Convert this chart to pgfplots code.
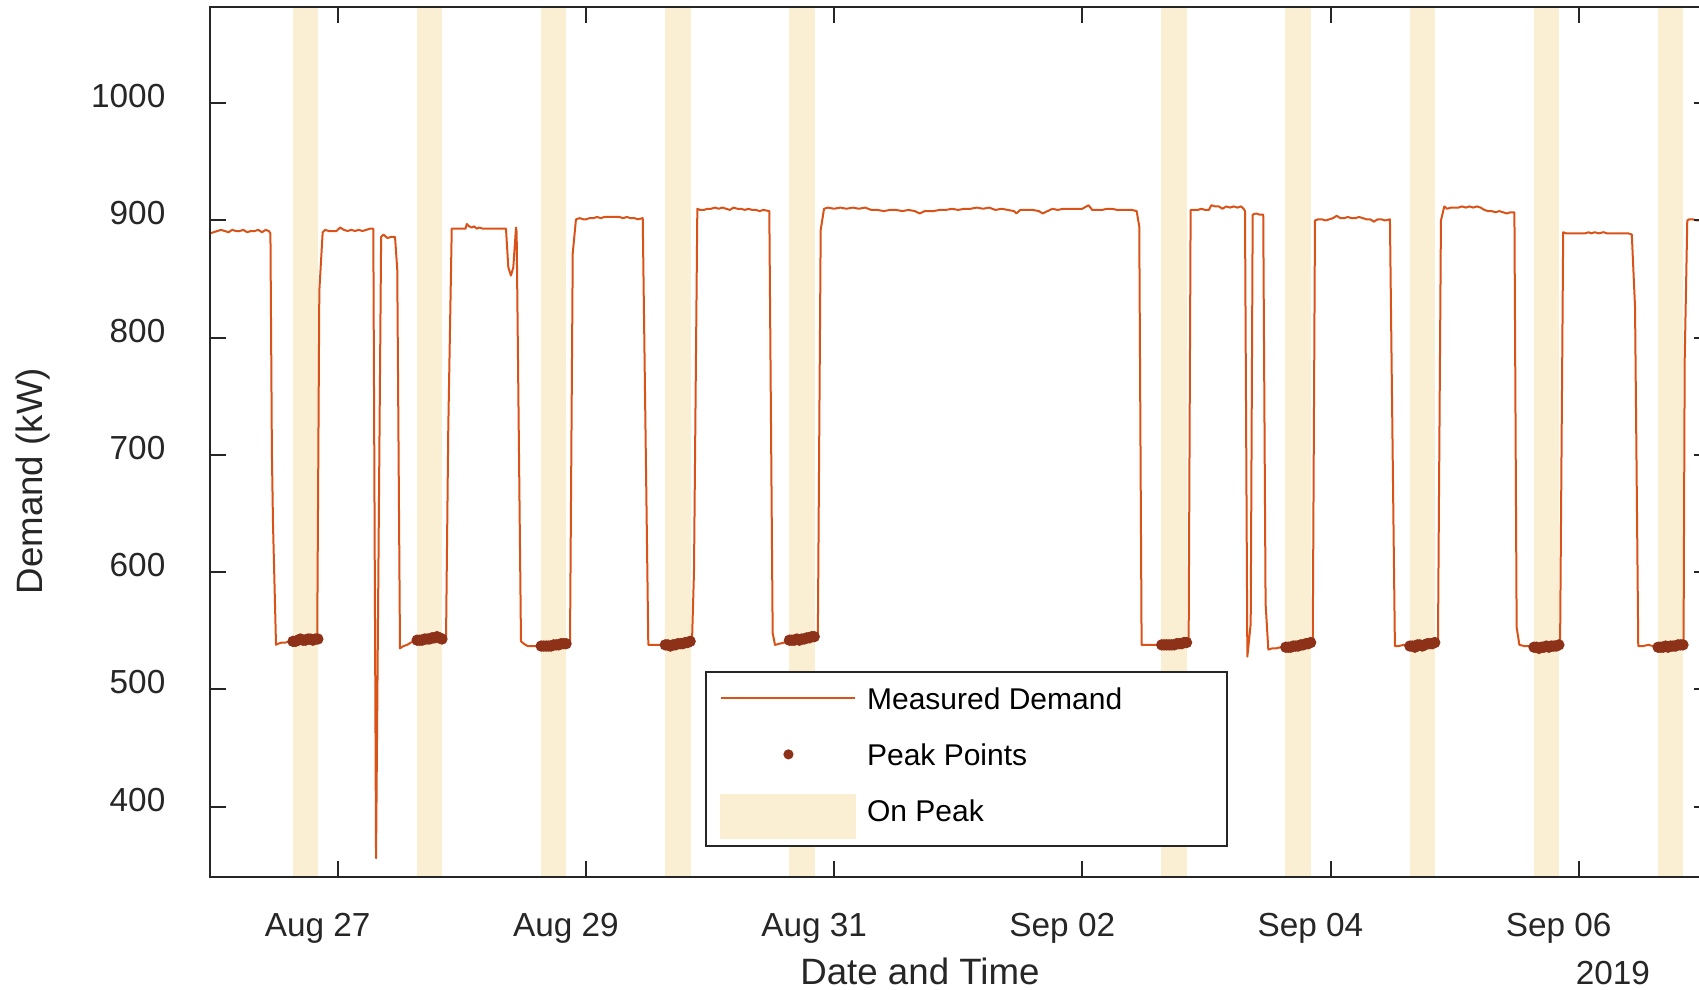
\documentclass[border=0pt]{standalone}
\usepackage{fontspec}
\setmainfont{Liberation Sans}
\usepackage{pgfplots}
\pgfplotsset{compat=1.18}
\definecolor{demandcol}{HTML}{D95319}
\definecolor{peakcol}{HTML}{8E3119}
\definecolor{bandcol}{RGB}{250,238,211}
\definecolor{axiscol}{HTML}{262626}
\pgfplotsset{
  lineleg/.style={legend image code/.code={\draw[##1] (0pt,0pt) -- (40.2pt,0pt);}},
  markleg/.style={legend image code/.code={\draw[##1, mark size=1.2pt] plot coordinates {(20.1pt,0pt)};}},
  bandleg/.style={legend image code/.code={\fill[bandcol] (0pt,-8.4pt) rectangle (40.2pt,4.6pt);}},
}
\begin{document}
\begin{tikzpicture}
\begin{axis}[
  scale only axis, width=450pt, height=261pt,
  xmin=-0.029, xmax=12.058, ymin=340, ymax=1082.1,
  axis on top,
  axis line style={draw=axiscol, line width=0.6pt},
  tick style={draw=axiscol, line width=0.6pt},
  major tick length=4.8pt,
  tick align=inside,
  xtick pos=both, ytick pos=both,
  xtick={1,3,5,7,9,11},
  xticklabels={Aug 27,Aug 29,Aug 31,Sep 02,Sep 04,Sep 06},
  ytick={400,500,...,1000},
  /pgf/number format/1000 sep={},
  /pgf/number format/assume math mode=true,
  ticklabel style={font=\fontsize{10}{12}\selectfont, text=axiscol},
  xticklabel style={anchor=base, yshift=-17.8pt, xshift=-6pt},
  yticklabel style={anchor=east, inner sep=0pt, xshift=-13.2pt, yshift=2.1pt},
  xlabel={Date and Time},
  ylabel={Demand (kW)},
  label style={font=\fontsize{11}{13}\selectfont, text=axiscol},
  xlabel style={at={(axis description cs:0.4733,-0.1236)}, anchor=base},
  ylabel style={at={(axis description cs:-0.1183,0.455)}, anchor=center},
  extra description/.code={
    \node[anchor=base, font=\fontsize{10}{12}\selectfont, text=axiscol] at (0.9353,-0.1236) {2019};
  },
  legend cell align=left,
  legend style={at={(axis description cs:0.3303,0.2371)}, anchor=north west,
    draw=axiscol, line width=0.6pt, fill=white,
    font=\fontsize{9}{11}\selectfont, text=black,
    inner xsep=4.2pt, inner ysep=2pt, row sep=4.8pt,
    nodes={inner sep=0pt, text height=9.2pt, text depth=2.8pt}},
]
% On-peak bands
\addplot[fill=bandcol, draw=none, forget plot] coordinates {(0.637,330) (0.843,330) (0.843,1090) (0.637,1090)};
\addplot[fill=bandcol, draw=none, forget plot] coordinates {(1.637,330) (1.843,330) (1.843,1090) (1.637,1090)};
\addplot[fill=bandcol, draw=none, forget plot] coordinates {(2.637,330) (2.843,330) (2.843,1090) (2.637,1090)};
\addplot[fill=bandcol, draw=none, forget plot] coordinates {(3.637,330) (3.843,330) (3.843,1090) (3.637,1090)};
\addplot[fill=bandcol, draw=none, forget plot] coordinates {(4.637,330) (4.843,330) (4.843,1090) (4.637,1090)};
\addplot[fill=bandcol, draw=none, forget plot] coordinates {(7.637,330) (7.843,330) (7.843,1090) (7.637,1090)};
\addplot[fill=bandcol, draw=none, forget plot] coordinates {(8.637,330) (8.843,330) (8.843,1090) (8.637,1090)};
\addplot[fill=bandcol, draw=none, forget plot] coordinates {(9.637,330) (9.843,330) (9.843,1090) (9.637,1090)};
\addplot[fill=bandcol, draw=none, forget plot] coordinates {(10.637,330) (10.843,330) (10.843,1090) (10.637,1090)};
\addplot[fill=bandcol, draw=none, forget plot] coordinates {(11.637,330) (11.843,330) (11.843,1090) (11.637,1090)};
% Measured demand
\addplot[demandcol, line width=0.6pt, line join=round, lineleg] coordinates {
(-0.029,889) (0.0,890) (0.03,891) (0.06,892) (0.09,891) (0.12,890) (0.15,892) (0.18,891) (0.21,891) (0.24,892) (0.27,890) (0.30,891) (0.33,891) (0.36,892) (0.39,890) (0.42,892) (0.445,891) (0.458,889)
(0.470,700) (0.479,640) (0.503,538) (0.52,539) (0.55,540) (0.58,540) (0.61,541) (0.64,541) (0.68,542) (0.72,542) (0.76,542) (0.80,542) (0.835,543) (0.852,840) (0.879,890)
(0.90,892) (0.93,891) (0.96,891) (0.99,891) (1.02,894) (1.05,892) (1.08,891) (1.11,892) (1.14,891) (1.17,892) (1.20,891) (1.23,892) (1.26,893) (1.287,893)
(1.309,356) (1.350,886) (1.37,888) (1.40,885) (1.43,886) (1.462,886)
(1.480,858) (1.502,535) (1.53,537) (1.56,538) (1.59,540) (1.62,541) (1.65,542) (1.69,542) (1.73,543) (1.77,544) (1.81,545) (1.845,543) (1.873,544) (1.891,722) (1.919,893)
(1.95,893) (1.99,893) (2.03,893) (2.04,897) (2.06,895) (2.08,894) (2.10,895) (2.12,893) (2.14,894) (2.17,893) (2.20,893) (2.25,893) (2.30,893) (2.356,893)
(2.375,860) (2.396,853) (2.415,860) (2.437,894) (2.442,890) (2.477,541) (2.50,539) (2.53,537) (2.56,537) (2.60,537) (2.64,537) (2.68,537) (2.72,537) (2.76,538) (2.80,539) (2.845,539) (2.872,540) (2.894,872) (2.920,901)
(2.95,902) (2.98,901) (3.0,901) (3.03,902) (3.06,902) (3.09,903) (3.12,902) (3.15,903) (3.18,903) (3.21,903) (3.24,903) (3.27,903) (3.30,902) (3.33,903) (3.36,902) (3.39,902) (3.42,901) (3.458,902)
(3.503,538) (3.54,538) (3.58,538) (3.62,538) (3.66,538) (3.70,538) (3.74,539) (3.78,539) (3.82,540) (3.855,541) (3.871,600) (3.898,910)
(3.92,909) (3.95,909) (3.98,910) (4.01,910) (4.04,911) (4.07,910) (4.10,911) (4.13,910) (4.16,909) (4.19,911) (4.22,910) (4.25,910) (4.28,909) (4.31,910) (4.34,909) (4.37,909) (4.40,908) (4.43,909) (4.478,908)
(4.505,548) (4.524,538) (4.56,539) (4.60,540) (4.64,542) (4.68,542) (4.72,543) (4.76,543) (4.80,544) (4.84,545) (4.869,545) (4.892,892) (4.919,910)
(4.95,911) (5.0,910) (5.05,911) (5.1,910) (5.15,911) (5.2,910) (5.25,911) (5.3,909) (5.35,909) (5.4,908) (5.45,909) (5.5,909) (5.55,908) (5.6,909) (5.65,908) (5.69,906) (5.73,908) (5.8,908) (5.85,909) (5.9,909) (5.95,910) (6.0,909) (6.05,910) (6.1,910) (6.15,911) (6.2,910) (6.25,911) (6.3,909) (6.35,910) (6.4,909) (6.45,908) (6.47,906) (6.5,909) (6.55,909) (6.6,909) (6.65,908) (6.68,906) (6.72,908) (6.76,910) (6.8,909) (6.85,910) (6.9,910) (6.95,910) (7.0,910) (7.05,913) (7.08,909) (7.12,909) (7.16,909) (7.2,910) (7.24,910) (7.28,909) (7.32,909) (7.36,909) (7.40,909) (7.438,908)
(7.459,895) (7.478,538) (7.51,538) (7.55,538) (7.59,538) (7.63,538) (7.67,538) (7.71,538) (7.75,539) (7.79,539) (7.83,540) (7.857,541) (7.873,909)
(7.90,909) (7.93,909) (7.96,910) (7.99,909) (8.02,909) (8.04,913) (8.07,912) (8.10,912) (8.13,910) (8.16,912) (8.19,911) (8.22,912) (8.25,911) (8.28,912) (8.30,910) (8.311,908)
(8.330,528) (8.357,556) (8.373,905) (8.40,906) (8.43,905) (8.458,905) (8.477,573) (8.499,534) (8.53,535) (8.56,535) (8.60,536) (8.64,536) (8.68,537) (8.72,537) (8.76,538) (8.80,539) (8.84,540) (8.857,540) (8.875,900)
(8.90,901) (8.93,901) (8.96,900) (8.99,901) (9.02,902) (9.05,904) (9.08,902) (9.11,902) (9.14,903) (9.17,902) (9.20,902) (9.23,903) (9.26,902) (9.29,901) (9.32,901) (9.35,899) (9.38,901) (9.41,901) (9.44,900) (9.479,901)
(9.519,537) (9.55,537) (9.59,538) (9.63,537) (9.67,537) (9.71,538) (9.75,538) (9.79,539) (9.83,539) (9.866,540) (9.890,900) (9.917,912)
(9.94,910) (9.97,911) (10.0,911) (10.03,911) (10.06,912) (10.09,911) (10.12,912) (10.15,911) (10.18,912) (10.21,911) (10.24,909) (10.27,908) (10.30,908) (10.33,907) (10.36,908) (10.39,907) (10.42,906) (10.45,907) (10.482,907)
(10.500,553) (10.522,538) (10.56,537) (10.60,537) (10.64,536) (10.68,536) (10.72,536) (10.76,537) (10.80,537) (10.835,537) (10.850,538) (10.875,890)
(10.9,889) (10.95,889) (11.0,889) (11.05,889) (11.08,890) (11.1,889) (11.13,890) (11.16,889) (11.2,890) (11.23,889) (11.26,889) (11.3,889) (11.35,889) (11.4,889) (11.428,888)
(11.454,826) (11.480,537) (11.52,537) (11.56,538) (11.60,537) (11.64,536) (11.68,536) (11.72,537) (11.76,537) (11.80,537) (11.845,538) (11.854,780) (11.875,900)
(11.89,901) (11.92,901) (11.95,900) (12.0,900) (12.06,900)
};
\addlegendentry{\makebox[107pt][l]{\hspace{3.2pt}Measured Demand}}
% Peak points
\addplot[only marks, mark=*, mark size=1.5pt, color=peakcol, markleg] coordinates {
(0.640,541) (0.660,541) (0.680,542) (0.700,543) (0.720,542) (0.740,542) (0.760,543) (0.780,543) (0.800,542) (0.820,543) (0.840,543)
(1.640,542) (1.660,542) (1.680,542) (1.700,543) (1.720,543) (1.740,543) (1.760,544) (1.780,544) (1.800,545) (1.820,544) (1.840,543)
(2.640,537) (2.660,537) (2.680,537) (2.700,537) (2.720,537) (2.740,538) (2.760,538) (2.780,538) (2.800,539) (2.820,539) (2.840,539)
(3.640,538) (3.660,538) (3.680,537) (3.700,538) (3.720,538) (3.740,539) (3.760,539) (3.780,539) (3.800,540) (3.820,540) (3.840,541)
(4.640,542) (4.660,542) (4.680,542) (4.700,543) (4.720,542) (4.740,543) (4.760,543) (4.780,544) (4.800,544) (4.820,545) (4.840,545)
(7.640,538) (7.660,538) (7.680,538) (7.700,538) (7.720,538) (7.740,538) (7.760,539) (7.780,539) (7.800,539) (7.820,540) (7.840,540)
(8.640,536) (8.660,536) (8.680,536) (8.700,537) (8.720,537) (8.740,537) (8.760,538) (8.780,538) (8.800,539) (8.820,539) (8.840,540)
(9.640,537) (9.660,537) (9.680,536) (9.700,538) (9.720,538) (9.740,537) (9.760,538) (9.780,539) (9.800,539) (9.820,539) (9.840,540)
(10.640,536) (10.660,536) (10.680,535) (10.700,536) (10.720,536) (10.740,537) (10.760,536) (10.780,537) (10.800,537) (10.820,537) (10.840,538)
(11.640,536) (11.660,536) (11.680,536) (11.700,537) (11.720,536) (11.740,537) (11.760,537) (11.780,537) (11.800,538) (11.820,538) (11.840,538)
};
\addlegendentry{\makebox[107pt][l]{\hspace{3.2pt}Peak Points}}
\addlegendimage{bandleg}
\addlegendentry{\makebox[107pt][l]{\hspace{3.2pt}On Peak}}
\end{axis}
\pgfresetboundingbox
\path[use as bounding box] (-63pt,-33.9pt) rectangle (446.7pt,263.1pt);
\end{tikzpicture}
\end{document}
